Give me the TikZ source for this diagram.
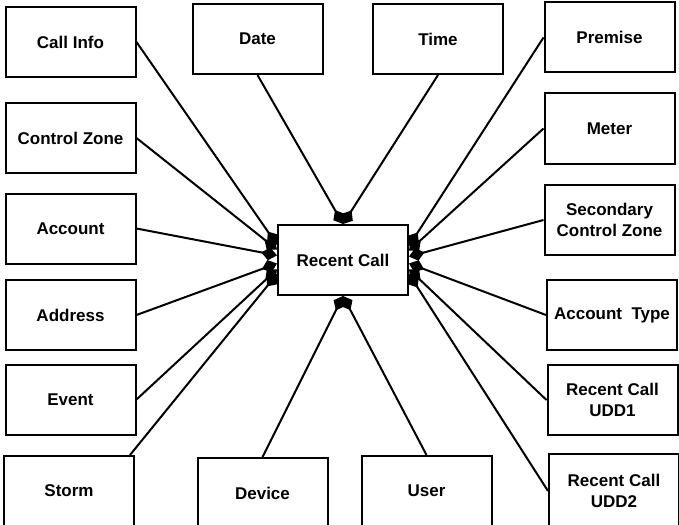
\documentclass[tikz,border=0pt]{standalone}
\usepackage{fontspec}
\setmainfont{Liberation Sans}
\usetikzlibrary{arrows.meta}

\begin{document}
\begin{tikzpicture}[x=1pt, y=-1pt,
  entity/.style={rectangle, draw, line width=2pt, minimum width=130pt, minimum height=70pt,
    inner sep=0pt, align=center, font=\fontsize{17}{21}\selectfont\bfseries},
  link/.style={line width=2pt, -{Diamond[length=16pt, width=13pt]}}]

\useasboundingbox (0,0) rectangle (679,524);

% Entités
\node[entity] (recent) at (343,260) {Recent Call};

\node[entity] (callinfo) at (70.5,42) {Call Info};
\node[entity] (ctrlzone) at (70.5,138) {Control Zone};
\node[entity] (account) at (70.5,228.5) {Account};
\node[entity] (address) at (70.5,315) {Address};
\node[entity] (event) at (70.5,399.5) {Event};
\node[entity] (storm) at (69,491) {Storm};

\node[entity] (date) at (257.5,39) {Date};
\node[entity] (time) at (438,39) {Time};
\node[entity] (device) at (262.5,493) {Device};
\node[entity] (user) at (426.5,491) {User};

\node[entity] (premise) at (609.5,37.5) {Premise};
\node[entity] (meter) at (609.5,128.5) {Meter};
\node[entity] (secctrl) at (609.5,220) {Secondary\\Control Zone};
\node[entity] (accttype) at (612,315) {Account\ \ Type};
\node[entity] (udd1) at (612.5,400) {Recent Call\\UDD1};
\node[entity, minimum height=74pt] (udd2) at (614,491) {Recent Call\\UDD2};

% Liens vers l'appel récent
\draw[link] (callinfo.east) -- (recent.167);
\draw[link] (ctrlzone.east) -- (recent.171);
\draw[link] (account.east) -- (recent.176);
\draw[link] (address.east) -- (recent.183);
\draw[link] (event.east) -- (recent.188);
\draw[link] ([xshift=-5pt]storm.north east) -- (recent.192);

\draw[link] (date.south) -- (recent.north);
\draw[link] (time.south) -- (recent.north);
\draw[link] (device.north) -- (recent.south);
\draw[link] (user.north) -- (recent.south);

\draw[link] (premise.west) -- (recent.12);
\draw[link] (meter.west) -- (recent.8);
\draw[link] (secctrl.west) -- (recent.3);
\draw[link] (accttype.west) -- (recent.-3);
\draw[link] (udd1.west) -- (recent.-8);
\draw[link] (udd2.west) -- (recent.-12);

\end{tikzpicture}
\end{document}
